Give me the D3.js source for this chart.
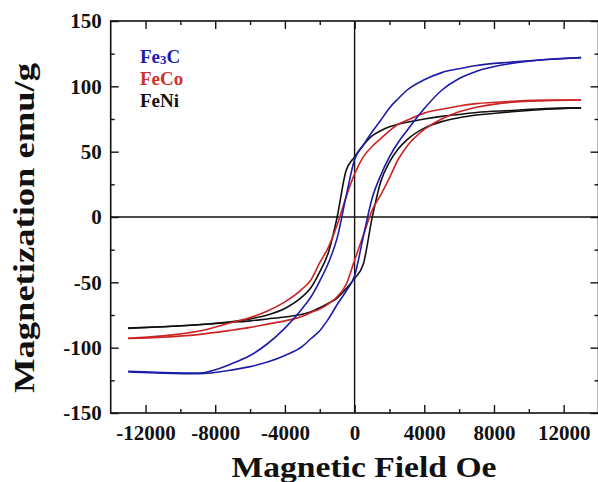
<!DOCTYPE html>
<html>
<head>
<meta charset="utf-8">
<script src="https://cdn.jsdelivr.net/npm/d3@7"></script>
<style>
  body { margin: 0; background: #fff; }
  svg text { font-family: "Liberation Serif", "Times New Roman", serif; font-weight: bold; }
</style>
</head>
<body>
<div id="chart"></div>
<script>
// Applied field (Oe) sample points shared by every branch
var fieldValues = [-13000, -11000, -9000, -7000, -6000, -5000, -4000, -3000, -2500, -2000, -1500, -1000, -500,
                   0, 500, 1000, 1500, 2000, 2500, 3000, 4000, 5000, 6000, 7000, 9000, 11000, 13000];

// Magnetization (emu/g): upper = descending branch, lower = ascending branch
var fe3cUpper = [-118, -119, -119.5, -112, -106, -97, -85, -70, -61, -49, -35, -16, 15,
                 44, 55, 65, 74, 83.5, 90.5, 97, 105, 110.5, 113.5, 116, 118.5, 120.5, 122];
var fe3cLower = [-118.5, -119.5, -120, -117, -114.5, -111, -106, -99, -93, -87, -78, -67, -57,
                 -45, -15, 14, 32, 46, 57, 66, 83, 97, 106, 111.5, 117.5, 120.5, 122];

var fecoUpper = [-92.8, -91, -87.5, -80.5, -77, -72, -65, -55, -48, -35, -23, -6, 15,
                 33, 46, 54, 60, 66, 71, 74, 79.5, 82.5, 85, 86.8, 88.5, 89.5, 89.5];
var fecoLower = [-93, -92, -90, -86.5, -84.5, -82, -79.5, -76, -73, -70.5, -66.5, -61, -52,
                 -33, -14, 5, 17, 30, 44, 54, 67, 75, 80.5, 84, 87.8, 89, 89.5];

var feniUpper = [-85, -84, -82.5, -80, -78, -75, -70, -61, -54, -42, -27, 0, 35,
                 46, 55, 62, 66, 69, 71, 72.5, 75, 77, 78.5, 80, 81.5, 83, 83.5];
var feniLower = [-85.2, -84, -82.5, -80.5, -79.5, -78, -76.5, -74.5, -72.5, -69.5, -66, -62, -55,
                 -47, -36, -1, 27, 42, 52, 59, 68, 73, 76, 78, 80.5, 82.5, 83.5];

var seriesNames = ["FeNi", "FeCo", "Fe3C"];
var seriesColors = ["#111111", "#cc2424", "#1c1ca8"];
var legendColors = ["#1c1ca8", "#d03030", "#111111"];

var xMajorTicks = [-12000, -8000, -4000, 0, 4000, 8000, 12000];
var xMinorTicks = [-10000, -6000, -2000, 2000, 6000, 10000];
var yMajorTicks = [-150, -100, -50, 0, 50, 100, 150];
var yMinorTicks = [-125, -75, -25, 25, 75, 125];

var width = 598, height = 482;
var plotLeft = 110.7, plotRight = 598.5, plotTop = 21, plotBottom = 413;

var svg = d3.select("#chart").append("svg")
    .attr("width", width)
    .attr("height", height);

var x = d3.scaleLinear().domain([-14000, 14000]).range([plotLeft, plotRight]);
var y = d3.scaleLinear().domain([-150, 150]).range([plotBottom, plotTop]);

// plain hyphen for negatives, like the original figure
function plainNumber(d) { return String(d); }

function styleAxis(g) {
    g.select(".domain").remove();
    g.selectAll("line").attr("stroke", "#111").attr("stroke-width", 1.4);
    g.selectAll("text").attr("fill", "#111").style("font-size", "21px");
}

// Bottom / top axes, ticks pointing inward
svg.append("g").attr("transform", "translate(0," + plotBottom + ")")
    .call(d3.axisBottom(x).tickValues(xMajorTicks).tickSize(-8).tickPadding(12).tickFormat(plainNumber))
    .call(styleAxis);
svg.append("g").attr("transform", "translate(0," + plotBottom + ")")
    .call(d3.axisBottom(x).tickValues(xMinorTicks).tickSize(-4).tickFormat(""))
    .call(styleAxis);
svg.append("g").attr("transform", "translate(0," + plotTop + ")")
    .call(d3.axisTop(x).tickValues(xMajorTicks).tickSize(-8).tickFormat(""))
    .call(styleAxis);
svg.append("g").attr("transform", "translate(0," + plotTop + ")")
    .call(d3.axisTop(x).tickValues(xMinorTicks).tickSize(-4).tickFormat(""))
    .call(styleAxis);

// Left / right axes
svg.append("g").attr("transform", "translate(" + plotLeft + ",0)")
    .call(d3.axisLeft(y).tickValues(yMajorTicks).tickSize(-8).tickPadding(9).tickFormat(plainNumber))
    .call(styleAxis);
svg.append("g").attr("transform", "translate(" + plotLeft + ",0)")
    .call(d3.axisLeft(y).tickValues(yMinorTicks).tickSize(-4).tickFormat(""))
    .call(styleAxis);
svg.append("g").attr("transform", "translate(" + plotRight + ",0)")
    .call(d3.axisRight(y).tickValues(yMajorTicks).tickSize(-8).tickFormat(""))
    .call(styleAxis);
svg.append("g").attr("transform", "translate(" + plotRight + ",0)")
    .call(d3.axisRight(y).tickValues(yMinorTicks).tickSize(-4).tickFormat(""))
    .call(styleAxis);

// Frame and zero lines
svg.append("rect")
    .attr("x", plotLeft).attr("y", plotTop)
    .attr("width", plotRight - plotLeft).attr("height", plotBottom - plotTop)
    .attr("fill", "none").attr("stroke", "#111").attr("stroke-width", 1.6);
svg.append("line")
    .attr("x1", x(0)).attr("x2", x(0)).attr("y1", plotTop).attr("y2", plotBottom)
    .attr("stroke", "#111").attr("stroke-width", 1.4);
svg.append("line")
    .attr("x1", plotLeft).attr("x2", plotRight).attr("y1", y(0)).attr("y2", y(0))
    .attr("stroke", "#111").attr("stroke-width", 1.4);

// Hysteresis loops
var branches = [
    [feniUpper, feniLower],
    [fecoUpper, fecoLower],
    [fe3cUpper, fe3cLower]
];

var line = d3.line()
    .x(function(d) { return x(d[0]); })
    .y(function(d) { return y(d[1]); })
    .curve(d3.curveMonotoneX);

branches.forEach(function(pair, i) {
    pair.forEach(function(values) {
        var pts = fieldValues.map(function(h, k) { return [h, values[k]]; });
        svg.append("path")
            .attr("d", line(pts))
            .attr("fill", "none")
            .attr("stroke", seriesColors[i])
            .attr("stroke-width", 1.6);
    });
});

// Legend
var legend = svg.append("g").style("font-size", "19px");
var t1 = legend.append("text").attr("x", 140).attr("y", 63).attr("fill", legendColors[0]);
t1.append("tspan").text("Fe");
t1.append("tspan").text("3").style("font-size", "13px").attr("dy", 1);
t1.append("tspan").text("C").attr("dy", -1);
legend.append("text").attr("x", 140).attr("y", 85).attr("fill", legendColors[1]).text("FeCo");
legend.append("text").attr("x", 140).attr("y", 107).attr("fill", legendColors[2]).text("FeNi");

// Axis titles
svg.append("text")
    .attr("x", 364).attr("y", 477)
    .attr("text-anchor", "middle")
    .attr("textLength", 265).attr("lengthAdjust", "spacingAndGlyphs")
    .style("font-size", "30px")
    .attr("fill", "#111")
    .text("Magnetic Field Oe");

svg.append("text")
    .attr("transform", "translate(33.5,228) rotate(-90)")
    .attr("text-anchor", "middle")
    .attr("textLength", 330).attr("lengthAdjust", "spacingAndGlyphs")
    .style("font-size", "30px")
    .attr("fill", "#111")
    .text("Magnetization emu/g");
</script>
</body>
</html>
